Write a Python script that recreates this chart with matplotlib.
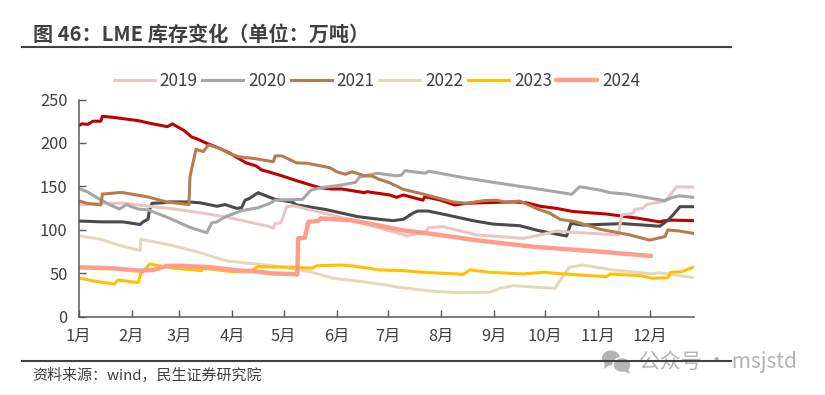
import matplotlib
matplotlib.use('Agg')
import matplotlib.pyplot as plt
from matplotlib.patches import Ellipse, Polygon

plt.rcParams['font.family'] = ['Noto Sans CJK SC', 'DejaVu Sans']

month_days = [0, 31, 59, 90, 120, 151, 181, 212, 243, 273, 304, 334]
month_labels = ['1月', '2月', '3月', '4月', '5月', '6月', '7月', '8月', '9月', '10月', '11月', '12月']
y_ticks = [0, 50, 100, 150, 200, 250]

# the two dark lines have no legend entry in the source
days_red = [0, 2, 5.5, 8.5, 13, 14, 20, 35, 42, 52, 55, 62, 66, 70, 75, 81.5, 88, 92.5, 98, 104, 107, 111, 119,
            127.5, 134, 141, 148, 154, 167.5, 168.5, 178.5, 182, 186, 190, 201.5, 202.5, 211.5, 220, 227, 235,
            254, 262, 270, 279.5, 289, 309, 328, 340, 342.5, 347.5, 359.5]
vals_red = [219.5, 222, 221.4, 225, 225, 230.6, 229.5, 225.6, 222.5, 218.7, 221.8, 214, 207, 204, 199.5, 194.5,
            188.7, 183.4, 177, 173.4, 168.8, 166.8, 162, 156.5, 152.6, 148.4, 146.9, 146.9, 142.6, 143.8, 141,
            140, 137.3, 140, 134, 138, 134.2, 128.5, 130.4, 131, 132, 131, 127, 124.6, 121, 118, 113, 109, 110.4,
            111, 110.4]

days_dark = [0, 14, 26, 36, 37.7, 40.6, 41.8, 43, 49, 53.5, 64, 71, 81, 85.7, 92.5, 95.4, 97.4, 100, 105, 111, 115,
             124.7, 127.6, 144, 163.5, 176, 184, 190, 195.6, 198.5, 204.4, 215.5, 230.7, 242.4, 258, 269, 285.5,
             288, 295, 318.4, 340, 344.8, 347.7, 351.8, 359.5]
vals_dark = [110, 109, 109, 106, 109, 112, 124.6, 130.4, 131, 132, 132, 131, 127, 129, 124.6, 125.3, 134, 136, 142.6,
             138, 135, 132, 128.5, 123.5, 115, 112, 110.4, 112, 119, 121.5, 121.5, 117, 110.4, 106.5, 104.6, 99,
             92.7, 107.4, 105.4, 107, 104, 111, 117, 126.5, 126.5]

days_2019 = [0, 14, 26, 43.6, 57.4, 72.8, 88, 99.3, 111, 114, 115, 118.4, 121.8, 125.6, 148, 167.5, 178.7, 186, 192,
             203.6, 204.6, 213.3, 233, 260, 269, 279.7, 289, 315.7, 317.7, 324.4, 325.4, 330, 332.3, 343, 346,
             349.8, 359.5]
vals_2019 = [128.5, 130.4, 130.6, 126.5, 123.5, 119, 114, 109, 104, 101.6, 107, 108, 126.5, 127.6, 117, 107, 100.5,
             96.5, 92.7, 98.5, 102.3, 103.5, 94, 90, 93.5, 98.5, 97, 94, 117, 119, 123.5, 124.6, 129, 133, 139.7,
             149.5, 149]

days_2020 = [0, 5, 12.5, 18, 24, 28, 31, 35, 41, 53.5, 65, 75, 78, 81, 86, 95.5, 105, 112, 115, 131, 136, 142, 154,
             162, 164.5, 175, 186, 189, 191, 202.5, 205, 225, 244.5, 270, 288.5, 293, 305, 311, 320.5, 343, 347.5,
             351.5, 359.5]
vals_2020 = [147.7, 143.8, 135, 129, 123.8, 129, 126.5, 123.8, 122.7, 113, 102.8, 96.5, 108, 109, 115, 122, 125.3,
             130.4, 134, 135, 145.7, 148.4, 151.5, 154.6, 161, 165, 162, 163, 168, 165, 167.4, 160, 154, 146.5,
             140.8, 149.5, 145.7, 142.6, 141, 133.4, 137.3, 139, 137.3]

days_2021 = [0, 5, 13, 14, 25, 40, 51.6, 64.6, 65.2, 68.7, 73, 76, 82.7, 88, 93.5, 103, 114, 115, 119, 127.6, 134,
             147, 151, 156, 160, 167.5, 171.5, 176, 182, 190, 201.6, 219, 227, 236.7, 244.6, 250.4, 258, 269, 275.7,
             281.6, 291, 305, 322.5, 334, 343, 344.7, 351.5, 359.5]
vals_2021 = [133.4, 130.4, 128.5, 141, 143, 138, 132, 129, 161, 192.6, 190, 197.6, 193.7, 188, 184, 182, 178.3, 185,
             185, 177, 176.5, 171.4, 166.8, 163.8, 166.8, 161.9, 161.9, 158, 154, 146.5, 141, 132, 130.4, 133.4, 134,
             131.5, 133, 123.5, 119, 112, 109, 100.5, 94, 88, 92, 99.7, 98.5, 95.8]

days_2022 = [0, 12.6, 24, 36, 36.5, 53.5, 69, 86.7, 104, 119.6, 135.4, 148.8, 162.7, 176.3, 188, 205.6, 223, 240.6,
             246.5, 254.3, 278.7, 282.6, 287, 295, 312.7, 336, 339, 359.5]
vals_2022 = [93, 89, 82, 76, 89, 82.4, 74.7, 64, 60.5, 57, 51.6, 44, 41, 37.4, 33.6, 29.4, 27.4, 27.9, 32.5, 35.5,
             32.5, 44, 56.7, 59.3, 53.6, 49, 50.5, 45]

days_2023 = [0, 8.7, 21, 23, 35, 36.4, 41.8, 49.6, 57.4, 72, 73, 90.5, 100, 105, 127.6, 136.4, 139.3, 153, 160.7,
             176.3, 190, 201.5, 225, 229, 240.6, 260, 271.6, 293, 309, 311, 328.4, 336, 344.7, 346.3, 352.7, 359.5]
vals_2023 = [44.7, 40.9, 37.4, 42, 39, 49.8, 60.5, 57.4, 55.5, 52.8, 55.5, 51.6, 51.6, 57.4, 56.7, 55.5, 58.5, 59.3,
             58.2, 53.6, 52.8, 50.9, 48.6, 53.6, 50.9, 49, 50.9, 47.8, 45.9, 49, 47, 44, 44.7, 50.9, 51.6, 56.7]

days_2024 = [0, 20, 36, 43.7, 51.6, 59.4, 77, 94.4, 102, 112, 128, 128.5, 132.5, 134.4, 140, 141.6, 158.8, 176.3,
             188, 211.4, 234.8, 266, 305, 335]
vals_2024 = [56.7, 55.5, 52.8, 53.6, 58.2, 58.5, 56.7, 52.8, 52.4, 49.8, 48.6, 90, 90.8, 109, 110, 113, 111, 104.6,
             99.7, 93.9, 87.3, 80.4, 74.7, 69.7]

TXT = '#404040'

fig = plt.figure(figsize=(8.25, 3.95), dpi=100)
ax = fig.add_axes([78.5 / 825, 1 - 316.5 / 395, (694 - 78.5) / 825, 217 / 395])

ax.plot(days_red, vals_red, color='#C00000', lw=2.2)
ax.plot(days_dark, vals_dark, color='#4A4A4A', lw=2.2)
ax.plot(days_2019, vals_2019, color='#E8C6C6', lw=2.2, label='2019')
ax.plot(days_2020, vals_2020, color='#A6A6A6', lw=2.2, label='2020')
ax.plot(days_2021, vals_2021, color='#B87B4B', lw=2.2, label='2021')
ax.plot(days_2022, vals_2022, color='#E4D8BC', lw=2.2, label='2022')
ax.plot(days_2023, vals_2023, color='#FFC000', lw=2.2, label='2023')
ax.plot(days_2024, vals_2024, color='#FF9C8C', lw=3.2, label='2024', solid_capstyle='round')

ax.set_xlim(0, 360)
ax.set_ylim(0, 250)
ax.set_xticks(month_days)
ax.set_xticklabels(month_labels)
ax.set_yticks(y_ticks)
ax.tick_params(direction='in', length=5, width=1, color='#595959', labelcolor=TXT, labelsize=11.8)
ax.tick_params(axis='x', pad=8)
ax.tick_params(axis='y', pad=8)
for s in ['top', 'right']:
    ax.spines[s].set_visible(False)
for s in ['left', 'bottom']:
    ax.spines[s].set_color('#595959')
    ax.spines[s].set_linewidth(1.1)

leg = ax.legend(ncol=6, loc='center left', bbox_to_anchor=(35 / 615.5, 1.087), frameon=False, fontsize=12.3,
                handlelength=2.4, handletextpad=0.3, columnspacing=0.26, borderpad=0, borderaxespad=0,
                labelcolor=TXT)

# header and footer of the report page
fig.add_artist(plt.Line2D([22 / 825, 731 / 825], [1 - 47 / 395] * 2, color='#404040', lw=1.5))
fig.add_artist(plt.Line2D([22 / 825, 731 / 825], [1 - 361 / 395] * 2, color='#404040', lw=1.5))
fig.text(33 / 825, 1 - 34 / 395, '图 46：LME 库存变化（单位：万吨）', fontsize=14.5, fontweight='bold', color=TXT,
         va='center', ha='left')
fig.text(32 / 825, 1 - 376 / 395, '资料来源：wind，民生证券研究院', fontsize=10.8, color=TXT, va='center', ha='left')

# watermark
wm = fig.add_axes([0, 0, 1, 1], facecolor='none')
wm.set_xlim(0, 825)
wm.set_ylim(395, 0)
wm.axis('off')
wm.add_patch(Ellipse((611, 358), 18, 15, color='#B4B4B4', lw=0))
wm.add_patch(Polygon([[605, 362], [604, 369], [611, 364]], color='#B4B4B4', lw=0))
wm.add_patch(Ellipse((622, 365), 18, 15, color='#B4B4B4', ec='white', lw=1))
wm.add_patch(Polygon([[624, 371], [630, 374], [628, 368]], color='#B4B4B4', lw=0))
wm.text(639, 362, '公众号 · msjstd', fontsize=15, color='#B4B4B4', va='center', ha='left')

fig.savefig('out.png', dpi=100)
